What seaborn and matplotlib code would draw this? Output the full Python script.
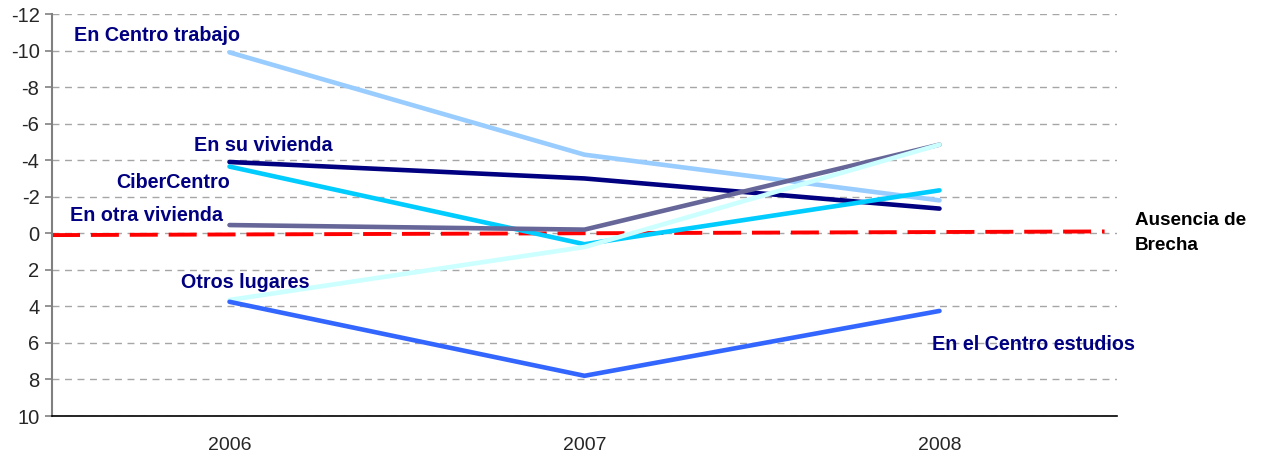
import numpy as np
import pandas as pd
import matplotlib
matplotlib.use("Agg")
import matplotlib.pyplot as plt
import seaborn as sns

years = ["2006", "2007", "2008"]
series_names = ["En Centro trabajo", "En su vivienda", "CiberCentro",
                "En otra vivienda", "Otros lugares", "En el Centro estudios"]
centro_trabajo = [-9.9, -4.3, -1.8]
su_vivienda = [-3.9, -3.0, -1.35]
cibercentro = [-3.65, 0.6, -2.35]
otra_vivienda = [-0.45, -0.2, -4.85]
otros_lugares = [3.65, 0.75, -4.85]
centro_estudios = [3.75, 7.8, 4.25]
brecha_x = [-0.5, 2.465]
brecha_y = [0.1, -0.1]

colors = ["#99CCFF", "#000080", "#00CCFF", "#666699", "#CCFFFF", "#3366FF"]

values = [centro_trabajo, su_vivienda, cibercentro, otra_vivienda, otros_lugares, centro_estudios]
df = pd.DataFrame({
    "serie": np.repeat(series_names, 3),
    "pos": np.tile(np.arange(3), len(series_names)),
    "valor": np.concatenate(values),
})

sns.set_style("white")
plt.rcParams['font.family'] = ['Liberation Sans', 'DejaVu Sans']

fig = plt.figure(figsize=(12.62, 4.57), dpi=100)
ax = fig.add_axes([52 / 1262, 41 / 457, 1065 / 1262, 402 / 457])

ax.plot(brecha_x, brecha_y, color="#FF0000", lw=2.8, dashes=(7.2, 2.8), zorder=1)
g = sns.lineplot(data=df, x="pos", y="valor", hue="serie", hue_order=series_names,
                 palette=colors, linewidth=3.3, legend=False, ax=ax, zorder=3)
for ln in ax.lines[1:]:
    ln.set_solid_capstyle("round")

ax.set_xlim(-0.5, 2.5)
ax.set_ylim(10, -12)
ax.set_yticks(np.arange(-12, 11, 2))
ax.set_yticklabels([str(v) for v in np.arange(-12, 11, 2)], fontsize=14.5)
ax.set_xticks([0, 1, 2])
ax.set_xticklabels(years, fontsize=14)
ax.set_xticks([-0.5, 0.5, 1.5, 2.5], minor=True)
ax.tick_params(axis="x", which="major", length=0, pad=15)
ax.tick_params(axis="x", which="minor", length=6, color="#808080", width=1.2)
ax.tick_params(axis="y", length=5, color="#808080", width=1.2, pad=4, left=True)
ax.set_xlabel("")
ax.set_ylabel("")

ax.yaxis.grid(True, color="#A6A6A6", linestyle=(0, (5, 4)), linewidth=1)
ax.set_axisbelow(True)
sns.despine(ax=ax, top=True, right=True)
ax.spines["left"].set_color("#808080")
ax.spines["left"].set_linewidth(1.5)
ax.spines["bottom"].set_color("black")
ax.spines["bottom"].set_linewidth(1.2)

lab = dict(color="#000080", fontsize=14.2, fontweight="bold", va="center")
ax.text(-0.437, -10.8, "En Centro trabajo", **lab)
ax.text(-0.1, -4.8, "En su vivienda", **lab)
ax.text(-0.32, -2.8, "CiberCentro", **lab)
ax.text(-0.45, -0.95, "En otra vivienda", **lab)
ax.text(-0.138, 2.7, "Otros lugares", **lab)
ax.text(1.98, 6.1, "En el Centro estudios", **lab)
ax.text(2.55, 0.0, "Ausencia de\nBrecha", color="black", fontsize=13.6,
        fontweight="bold", va="center", linespacing=1.6, clip_on=False)

fig.savefig("out.png", dpi=100)
